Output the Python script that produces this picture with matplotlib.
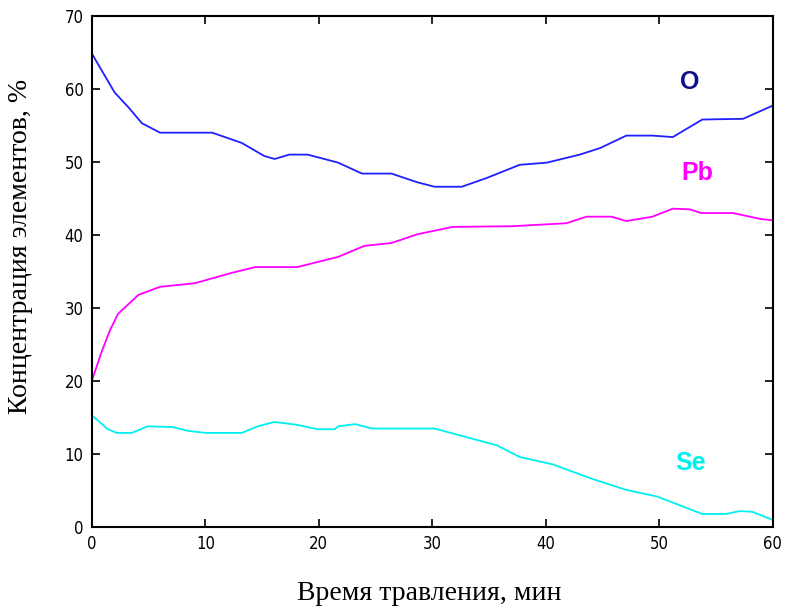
import matplotlib
matplotlib.use("Agg")
import matplotlib.pyplot as plt

# концентрация O, Pb, Se по времени травления
o_time = [0, 2, 3.2, 4.4, 6, 10.6, 13.2, 15.2, 16.1, 17.4, 19, 21.7, 23.8, 26.4,
          28.7, 30.2, 32.6, 34.8, 37.7, 40.1, 43, 44.8, 47.1, 49.4, 51.2, 53.8,
          57.4, 60]
o_conc = [64.8, 59.5, 57.5, 55.3, 54.0, 54.0, 52.6, 50.8, 50.4, 51.0, 51.0, 49.9,
          48.4, 48.4, 47.2, 46.6, 46.6, 47.8, 49.6, 49.9, 51.0, 51.9, 53.6, 53.6,
          53.4, 55.8, 55.9, 57.7]

pb_time = [0, 0.9, 1.6, 2.3, 4.1, 6, 9.1, 12.3, 14.4, 18.1, 21.7, 24, 26.4, 28.7,
           31.8, 37.1, 41.8, 43.6, 45.8, 47.1, 49.4, 51.2, 52.7, 53.7, 56.5,
           58.9, 60]
pb_conc = [20.1, 24.2, 27.0, 29.2, 31.8, 32.9, 33.4, 34.8, 35.6, 35.6, 37.0, 38.5,
           38.9, 40.1, 41.1, 41.2, 41.6, 42.5, 42.5, 41.9, 42.5, 43.6, 43.5, 43.0,
           43.0, 42.2, 42.0]

se_time = [0, 1.4, 2.2, 3.5, 4.9, 7.1, 8.4, 10, 13.2, 14.6, 16.1, 18.1, 19.9, 21.4,
           21.7, 23.2, 24.7, 30.2, 33.3, 35.7, 37.7, 40.6, 44.1, 47.1, 49.8, 51.8,
           53.8, 55.9, 57.1, 58.2, 60]
se_conc = [15.3, 13.4, 12.9, 12.9, 13.8, 13.7, 13.2, 12.9, 12.9, 13.8, 14.4, 14.0,
           13.4, 13.4, 13.8, 14.1, 13.5, 13.5, 12.2, 11.2, 9.6, 8.6, 6.6, 5.1, 4.2,
           3.0, 1.8, 1.8, 2.2, 2.1, 1.0]

fig = plt.figure(figsize=(7.86, 6.08), dpi=100)
ax = fig.add_axes([0.117, 0.133, 0.866, 0.841])

ax.plot(o_time, o_conc, color="#1f1fff", lw=1.3)
ax.plot(pb_time, pb_conc, color="#ff00ff", lw=1.3)
ax.plot(se_time, se_conc, color="#00f0f0", lw=1.3)

ax.text(52.7, 61.0, "O", color="#10108c", fontsize=18, fontweight="bold",
        family="Liberation Sans", ha="center", va="center")
ax.text(53.4, 48.5, "Pb", color="#ff00ff", fontsize=18, fontweight="bold",
        family="Liberation Sans", ha="center", va="center")
ax.text(52.8, 8.8, "Se", color="#00f0f0", fontsize=18, fontweight="bold",
        family="Liberation Sans", ha="center", va="center")

ax.set_xlim(0, 60)
ax.set_ylim(0, 70)
ax.set_xticks(range(0, 61, 10))
ax.set_yticks(range(0, 71, 10))
ax.tick_params(direction="in", length=6, width=1.2, top=True, right=True,
               labelsize=12, pad=6)
for lab in ax.get_xticklabels() + ax.get_yticklabels():
    lab.set_family(["Liberation Sans Narrow", "DejaVu Sans"])
    lab.set_stretch("condensed")
for sp in ax.spines.values():
    sp.set_linewidth(1.5)

ax.set_xlabel("Время травления, мин", family="Liberation Serif", fontsize=20)
ax.set_ylabel("Концентрация элементов, %", family="Liberation Serif",
              fontsize=20)
ax.xaxis.set_label_coords(0.496, -0.105)
ax.yaxis.set_label_coords(-0.087, 0.548)

fig.savefig("out.png", dpi=100)
